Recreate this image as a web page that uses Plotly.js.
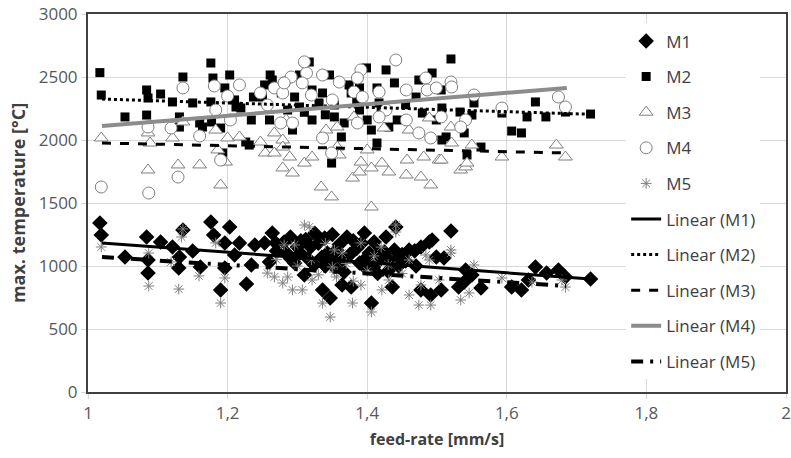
<!DOCTYPE html>
<html>
<head>
<meta charset="utf-8">
<script src="https://cdn.plot.ly/plotly-3.0.1.min.js"></script>
<style>html,body{margin:0;padding:0;background:#fff;}#chart{width:791px;height:458px;}</style>
</head>
<body>
<div id="chart"></div>
<script>
// ---- data ----
const seriesNames = ["M1", "M2", "M3", "M4", "M5"];
const xTickVals = [1, 1.2, 1.4, 1.6, 1.8, 2];
const xTickText = ["1", "1,2", "1,4", "1,6", "1,8", "2"];
const yTickVals = [0, 500, 1000, 1500, 2000, 2500, 3000];

const m1X = [1.017,1.019,1.053,1.084,1.086,1.086,1.104,1.121,1.131,1.130,1.136,1.150,1.161,1.176,1.180,1.190,1.196,1.203,1.196,1.210,1.217,1.227,1.234,1.239,1.253,1.264,1.260,1.269,1.281,1.290,1.296,1.310,1.304,1.319,1.324,1.336,1.339,1.347,1.343,1.353,1.371,1.364,1.377,1.396,1.403,1.406,1.417,1.427,1.431,1.439,1.441,1.436,1.446,1.460,1.477,1.489,1.493,1.477,1.491,1.499,1.506,1.510,1.520,1.531,1.539,1.541,1.550,1.563,1.607,1.621,1.641,1.657,1.674,1.684,1.720,1.631,1.389,1.409,1.356,1.367,1.285,1.300,1.315,1.330,1.345,1.360,1.375,1.385,1.395,1.410,1.420,1.430,1.445,1.455,1.470,1.380,1.350,1.335,1.270,1.325,1.398,1.415,1.305,1.340,1.365,1.392,1.425,1.450,1.468,1.290,1.312,1.355];
const m1Y = [1341,1246,1071,1230,1048,944,1190,1151,1071,984,1286,1119,992,1349,1246,810,1183,1310,984,1087,1183,857,1008,1167,1183,1262,1032,1183,1190,1230,1024,929,1103,1151,1008,810,1222,746,1103,992,1230,849,833,1262,1103,706,1111,1230,1048,1127,1310,833,1071,1127,1151,1190,1206,810,770,1071,810,1063,1278,833,873,968,929,825,833,810,992,944,968,913,897,889,1024,992,1127,952,1100,1150,1060,1180,1040,1170,1090,1140,1000,1190,1060,960,1000,1040,1000,1200,1250,1070,1120,1260,1060,940,1200,1000,1050,1180,1110,1090,1120,1060,1210,1080];

const m2X = [1.017,1.019,1.053,1.084,1.086,1.084,1.104,1.136,1.131,1.131,1.121,1.150,1.160,1.164,1.176,1.179,1.176,1.177,1.190,1.196,1.203,1.210,1.212,1.219,1.226,1.231,1.234,1.237,1.250,1.253,1.261,1.264,1.260,1.193,1.303,1.321,1.346,1.336,1.331,1.353,1.353,1.367,1.363,1.374,1.377,1.389,1.389,1.399,1.400,1.406,1.414,1.417,1.414,1.427,1.439,1.431,1.443,1.349,1.470,1.474,1.479,1.493,1.499,1.506,1.513,1.296,1.286,1.293,1.321,1.303,1.277,1.317,1.520,1.553,1.533,1.550,1.507,1.539,1.507,1.563,1.543,1.593,1.607,1.621,1.629,1.641,1.656,1.684,1.720,1.340,1.385,1.420,1.455,1.310];
const m2Y = [2535,2357,2183,2397,2333,2198,2365,2500,2183,2103,2302,2294,2135,2103,2611,2492,2302,2143,2095,2413,2516,2318,2262,2254,1984,1960,2159,2341,2341,2437,2516,2476,2159,1897,2516,2397,2516,2373,2294,2278,2183,2135,2024,2437,2373,2413,2238,2572,2159,2079,2413,2294,1976,2556,2453,2103,2159,1817,2341,2476,2214,2532,2159,2397,2024,2341,2238,2079,2159,2262,2373,2619,2643,2294,2222,2198,2254,2056,2000,1944,1881,2214,2071,2056,2183,2302,2183,2222,2206,2200,2320,2260,2280,2220];

const m3X = [1.019,1.086,1.086,1.089,1.121,1.129,1.136,1.160,1.183,1.186,1.190,1.197,1.200,1.217,1.247,1.254,1.267,1.267,1.279,1.279,1.279,1.289,1.293,1.310,1.321,1.334,1.349,1.357,1.360,1.379,1.391,1.389,1.406,1.406,1.421,1.431,1.424,1.457,1.456,1.477,1.481,1.491,1.503,1.489,1.284,1.341,1.357,1.381,1.400,1.460,1.520,1.521,1.550,1.534,1.541,1.543,1.593,1.671,1.684,1.506];
const m3Y = [2016,2056,1762,1976,2016,1802,2143,1802,2079,1921,1643,1825,2016,2024,1984,1897,1897,2056,1778,2000,1944,1865,1738,1817,1865,1627,1548,1944,1881,1698,1825,1746,1468,1778,1817,1746,2095,1841,1722,1706,1865,1643,1841,2175,2159,2079,2103,2183,1921,2079,2103,1976,1960,1762,1786,1817,1865,1960,1865,1841];

const m4X = [1.019,1.087,1.086,1.129,1.136,1.119,1.160,1.181,1.190,1.183,1.200,1.217,1.204,1.247,1.267,1.276,1.281,1.257,1.291,1.313,1.307,1.336,1.320,1.360,1.350,1.391,1.386,1.381,1.393,1.427,1.417,1.456,1.441,1.484,1.486,1.499,1.456,1.474,1.491,1.336,1.349,1.386,1.293,1.279,1.281,1.417,1.520,1.521,1.553,1.593,1.541,1.534,1.674,1.684,1.506,1.310];
const m4Y = [1627,1579,2103,1706,2413,2095,2032,2429,1841,2238,2349,2437,2159,2373,2413,2135,2453,2278,2500,2532,2453,2516,2357,2460,2318,2556,2492,2381,2341,2238,2381,2397,2635,2492,2397,2413,2159,2056,2016,2016,1897,2135,2135,2373,2453,2183,2460,2421,2357,2254,2159,2103,2341,2262,2183,2620];

const m5X = [1.019,1.087,1.087,1.130,1.134,1.136,1.159,1.190,1.183,1.196,1.119,1.257,1.267,1.279,1.286,1.293,1.307,1.321,1.336,1.347,1.310,1.317,1.296,1.281,1.353,1.353,1.379,1.406,1.391,1.391,1.441,1.460,1.460,1.474,1.491,1.477,1.489,1.503,1.520,1.534,1.546,1.553,1.593,1.679,1.684,1.636,1.431,1.421,1.356,1.364,1.350,1.441,1.484,1.520,1.300,1.320,1.340,1.370,1.400,1.410,1.430,1.450,1.270,1.330,1.380,1.420];
const m5Y = [1151,841,1103,817,1230,1294,921,706,1183,905,1032,944,913,865,913,810,810,889,706,595,1325,1310,1167,1167,1127,952,706,635,849,1183,1270,1048,770,690,690,849,1048,889,1103,730,786,1008,905,889,833,873,889,810,913,1103,992,1325,1087,1127,1000,1050,1180,1020,960,1080,1010,940,1050,930,880,1150];

// linear trend lines (end points)
const trendX = {M1:[1.02,1.72], M2:[1.02,1.715], M3:[1.02,1.686], M4:[1.02,1.686], M5:[1.02,1.685]};
const trendY = {M1:[1183,897], M2:[2325,2205], M3:[1976,1897], M4:[2111,2413], M5:[1071,842]};

// ---- chart ----
const grayMk = '#7f7f7f';
const mk = {
  M1: {symbol:'diamond', size:12, color:'#000', line:{width:0}},
  M2: {symbol:'square', size:9, color:'#000', line:{width:0}},
  M3: {symbol:'triangle-up', size:12, color:'#fff', line:{color:grayMk, width:1}},
  M4: {symbol:'circle', size:12, color:'#fff', line:{color:grayMk, width:1}},
  M5: {symbol:'asterisk-open', size:9, color:grayMk, line:{color:grayMk, width:1}}
};
const xs = {M1:m1X, M2:m2X, M3:m3X, M4:m4X, M5:m5X};
const ys = {M1:m1Y, M2:m2Y, M3:m3Y, M4:m4Y, M5:m5Y};
const lineSt = {
  M1: {color:'#000', width:3, dash:'solid'},
  M2: {color:'#000', width:3, dash:'dot'},
  M3: {color:'#000', width:3, dash:'dash'},
  M4: {color:'#8c8c8c', width:4, dash:'solid'},
  M5: {color:'#000', width:4, dash:'12px,7px,3px,7px'}
};

const traces = [];
seriesNames.forEach((n, i) => {
  traces.push({type:'scatter', mode:'markers', name:n, x:xs[n], y:ys[n], marker:mk[n], legendgroup:'g'+i});
});
seriesNames.forEach((n, i) => {
  traces.push({type:'scatter', mode:'lines', name:'Linear ('+n+')', x:trendX[n], y:trendY[n], line:lineSt[n], legendgroup:'t'+i});
});

const tickFont = {family:'Open Sans, Liberation Sans, sans-serif', size:17, color:'#595959'};
const layout = {
  width:791, height:458,
  margin:{l:88, r:5, t:14, b:66},
  paper_bgcolor:'#fff', plot_bgcolor:'#fff',
  showlegend:true,
  legend:{x:0.771, y:0.975, xanchor:'left', yanchor:'top', bgcolor:'#fff', borderwidth:0,
    font:{family:'Open Sans, sans-serif', size:17, color:'#404040'}, traceorder:'grouped', tracegroupgap:10.5},
  xaxis:{range:[1,2], tickvals:xTickVals, ticktext:xTickText, showgrid:true, gridcolor:'#d9d9d9', gridwidth:1,
    zeroline:false, showline:true, mirror:true, linecolor:'#404040', linewidth:2,
    ticks:'outside', ticklen:5, tickcolor:'#d9d9d9', tickfont:tickFont,
    title:{text:'feed-rate [mm/s]', font:{family:'Open Sans, sans-serif', size:16, color:'#404040', weight:'bold'}, standoff:10}},
  yaxis:{range:[0,3000], tickvals:yTickVals, showgrid:true, gridcolor:'#d9d9d9', gridwidth:1,
    zeroline:false, showline:true, mirror:true, linecolor:'#404040', linewidth:2,
    ticks:'outside', ticklen:5, tickcolor:'#d9d9d9', tickfont:tickFont,
    title:{text:'max. temperature [°C]', font:{family:'Open Sans, sans-serif', size:18, color:'#404040', weight:'bold'}, standoff:8}}
};
Plotly.newPlot('chart', traces, layout, {staticPlot:true, displayModeBar:false});
</script>
</body>
</html>
